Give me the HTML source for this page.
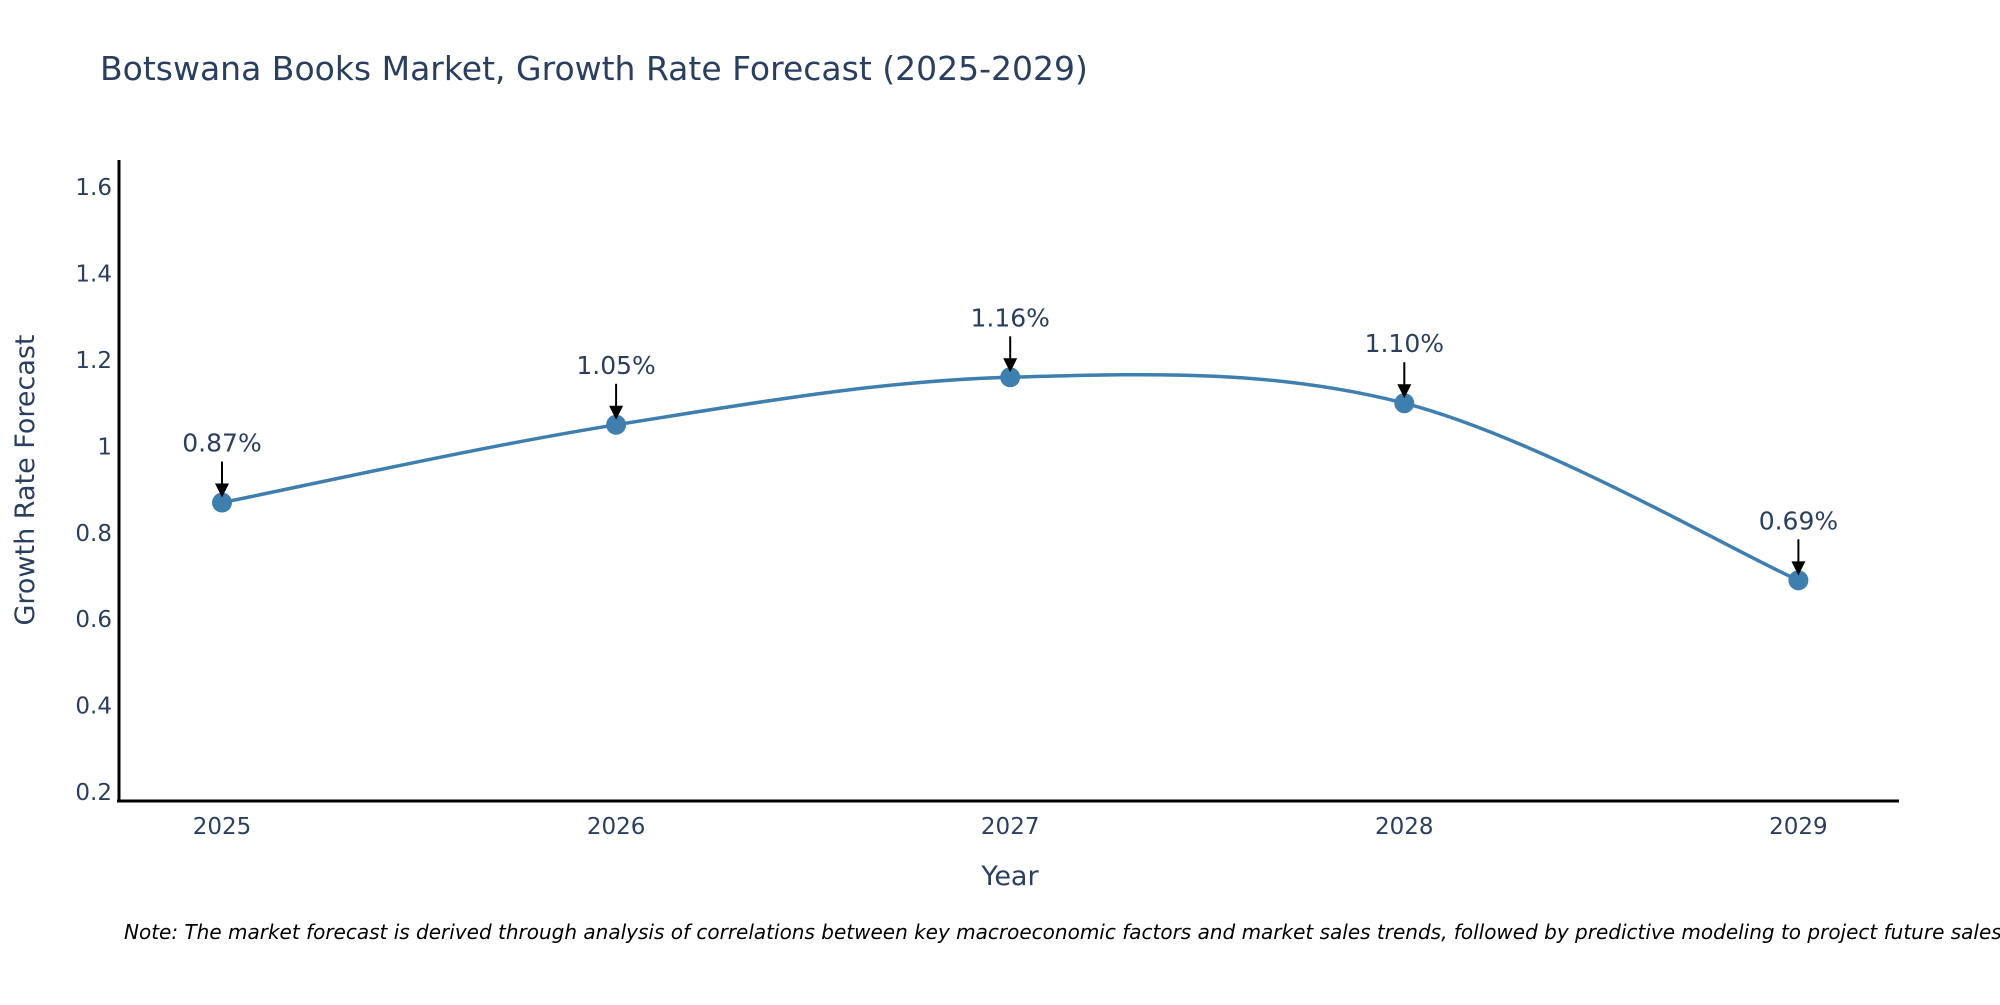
<!DOCTYPE html>
<html><head><meta charset="utf-8"><style>
body{margin:0;background:#fff}
svg text{font-family:"DejaVu Sans","Liberation Sans",sans-serif;fill:#2a3f5f}
</style></head><body>
<svg id="chart" width="2000" height="1000" xmlns="http://www.w3.org/2000/svg">
<text x="100" y="80" font-size="33">Botswana Books Market, Growth Rate Forecast (2025-2029)</text>
<g id="yticks"></g>
<g id="xticks"></g>
<line x1="119" y1="160" x2="119" y2="802" stroke="#000" stroke-width="3"/>
<line x1="117" y1="801" x2="1899" y2="801" stroke="#000" stroke-width="3"/>
<text transform="translate(34,480) rotate(-90)" text-anchor="middle" font-size="27">Growth Rate Forecast</text>
<text x="1010" y="885" text-anchor="middle" font-size="27">Year</text>
<g id="series"></g>
<text x="124" y="939" font-size="20" font-style="italic" style="fill:#000">Note: The market forecast is derived through analysis of correlations between key macroeconomic factors and market sales trends, followed by predictive modeling to project future sales.</text>
</svg>
<script>
const years=[2025,2026,2027,2028,2029];
const values=[0.87,1.05,1.16,1.10,0.69];
const labels=["0.87%","1.05%","1.16%","1.10%","0.69%"];
const yTicks=[0.2,0.4,0.6,0.8,1,1.2,1.4,1.6];
const NS="http://www.w3.org/2000/svg";
const X=v=>222+(v-2025)*394.1;
const Y=v=>792-(v-0.2)*432;
function mk(t,a,p){const e=document.createElementNS(NS,t);for(const k in a)e.setAttribute(k,a[k]);p.appendChild(e);return e;}
const yt=document.getElementById('yticks');
yTicks.forEach(v=>{const t=mk('text',{x:112,y:Y(v)+8,'text-anchor':'end','font-size':23},yt);t.textContent=String(v);

});
const xt=document.getElementById('xticks');
years.forEach(v=>{const t=mk('text',{x:X(v),y:834,'text-anchor':'middle','font-size':23},xt);t.textContent=String(v);

});
const s=document.getElementById('series');
const P=years.map((y,i)=>[X(y),Y(values[i])]);
let d='M'+P[0][0]+','+P[0][1];const k=0.17;
for(let i=0;i<P.length-1;i++){const p0=P[Math.max(0,i-1)],p1=P[i],p2=P[i+1],p3=P[Math.min(P.length-1,i+2)];
d+=' C'+(p1[0]+(p2[0]-p0[0])*k)+','+(p1[1]+(p2[1]-p0[1])*k)+' '+(p2[0]-(p3[0]-p1[0])*k)+','+(p2[1]-(p3[1]-p1[1])*k)+' '+p2[0]+','+p2[1];}
const ln=mk('path',{d:d,fill:'none',stroke:'#3f7fb0','stroke-width':3.5},s);


P.forEach((p,i)=>{
const c=mk('circle',{cx:p[0],cy:p[1],r:10,fill:'#3f7fb0'},s);


const a=mk('line',{x1:p[0],y1:p[1]-41,x2:p[0],y2:p[1]-16,stroke:'#000','stroke-width':2},s);


const h=mk('path',{d:'M'+(p[0]-7)+','+(p[1]-19)+' L'+(p[0]+7)+','+(p[1]-19)+' L'+p[0]+','+(p[1]-5)+' Z',fill:'#000'},s);


const t=mk('text',{x:p[0],y:p[1]-51,'text-anchor':'middle','font-size':25},s);t.textContent=labels[i];


});
</script>
</body></html>
